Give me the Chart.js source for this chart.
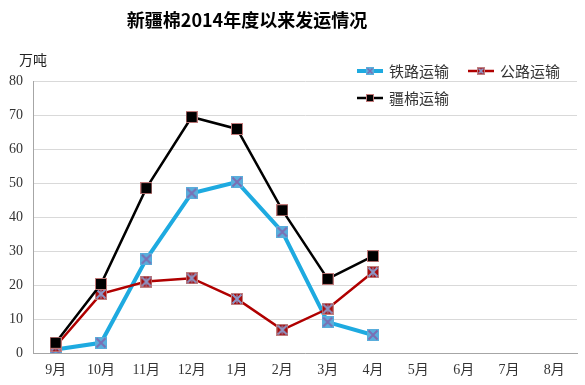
<!DOCTYPE html>
<html>
<head>
<meta charset="utf-8">
<script src="https://cdn.jsdelivr.net/npm/chart.js@4"></script>
<style>
  body { margin: 0; background: #fff; }
  #wrap { width: 585px; height: 385px; }
</style>
</head>
<body>
<div id="wrap"><canvas id="cottonChart" width="585" height="385"></canvas></div>
<script>
// data (万吨)
const months = ['9月', '10月', '11月', '12月', '1月', '2月', '3月', '4月', '5月', '6月', '7月', '8月'];
const railway = [1, 3, 27.6, 47, 50.3, 35.6, 9.1, 5.3, null, null, null, null];
const road = [2, 17.4, 21, 22, 15.9, 6.8, 13, 23.8, null, null, null, null];
const cotton = [3, 20.3, 48.5, 69.4, 65.9, 42, 21.8, 28.5, null, null, null, null];
const seriesNames = ['铁路运输', '公路运输', '疆棉运输'];
const yTicks = [0, 10, 20, 30, 40, 50, 60, 70, 80];

const cjk = '"Liberation Serif", "Noto Sans CJK SC", serif';

// marker pictures: square with a cross / star / plain
function makeMarker(size, fill, border, mark, markColor) {
    const c = document.createElement('canvas');
    c.width = size; c.height = size;
    const g = c.getContext('2d');
    g.fillStyle = fill;
    g.fillRect(0, 0, size, size);
    g.strokeStyle = border;
    g.lineWidth = 1;
    g.strokeRect(0.5, 0.5, size - 1, size - 1);
    g.strokeStyle = markColor;
    g.lineWidth = size > 8 ? 2 : 1.5;
    const p = 1.5, q = size - 1.5;
    if (mark === 'x' || mark === 'star') {
        g.beginPath();
        g.moveTo(p, p); g.lineTo(q, q);
        g.moveTo(q, p); g.lineTo(p, q);
        g.stroke();
    }
    if (mark === 'star') {
        g.lineWidth = 1.2;
        g.beginPath();
        g.moveTo(size / 2, p); g.lineTo(size / 2, q);
        g.stroke();
    }
    return c;
}

const railMark = makeMarker(12, '#5aaedc', '#5aaedc', 'x', '#7b6fb3');
const roadMark = makeMarker(12, '#a80d0d', '#c08080', 'star', '#8c98c8');
const cottonMark = makeMarker(12, '#000000', '#c07a7a', 'none', '#000');
const railMarkS = makeMarker(8, '#5aaedc', '#5aaedc', 'x', '#7b6fb3');
const roadMarkS = makeMarker(8, '#a80d0d', '#c08080', 'star', '#8c98c8');
const cottonMarkS = makeMarker(8, '#000000', '#c07a7a', 'none', '#000');

const extras = {
    id: 'extras',
    afterDraw(chart) {
        const ctx = chart.ctx;
        ctx.save();
        // title
        ctx.fillStyle = '#000';
        ctx.font = 'bold 18px "Noto Sans CJK SC", sans-serif';
        ctx.textAlign = 'center';
        ctx.textBaseline = 'middle';
        ctx.fillText('新疆棉2014年度以来发运情况', 247, 20);
        // unit
        ctx.font = '14px "Noto Sans CJK SC", sans-serif';
        ctx.fillStyle = '#222';
        ctx.fillText('万吨', 33, 60);
        // legend
        const items = [
            { x: 357, y: 71, color: '#1eaae0', w: 4, img: railMarkS, text: seriesNames[0] },
            { x: 468, y: 71, color: '#b00000', w: 2.5, img: roadMarkS, text: seriesNames[1] },
            { x: 357, y: 98, color: '#000000', w: 2.5, img: cottonMarkS, text: seriesNames[2] }
        ];
        ctx.textAlign = 'left';
        ctx.font = '15px "Noto Sans CJK SC", sans-serif';
        items.forEach(it => {
            ctx.strokeStyle = it.color;
            ctx.lineWidth = it.w;
            ctx.beginPath();
            ctx.moveTo(it.x, it.y);
            ctx.lineTo(it.x + 26, it.y);
            ctx.stroke();
            ctx.drawImage(it.img, it.x + 9, it.y - 4);
            ctx.fillStyle = '#333';
            ctx.fillText(it.text, it.x + 32, it.y);
        });
        ctx.restore();
    }
};

const ctx = document.getElementById('cottonChart').getContext('2d');
const myChart = new Chart(ctx, {
    type: 'line',
    data: {
        labels: months,
        datasets: [{
            label: seriesNames[0],
            data: railway,
            borderColor: '#1eaae0',
            borderWidth: 4,
            pointStyle: railMark,
            order: 3
        }, {
            label: seriesNames[1],
            data: road,
            borderColor: '#b00000',
            borderWidth: 2.5,
            pointStyle: roadMark,
            order: 2
        }, {
            label: seriesNames[2],
            data: cotton,
            borderColor: '#000000',
            borderWidth: 2.5,
            pointStyle: cottonMark,
            order: 1
        }]
    },
    options: {
        responsive: false,
        animation: false,
        tension: 0,
        layout: { padding: { top: 81, right: 7, left: 0, bottom: 0 } },
        plugins: {
            legend: { display: false },
            title: { display: false },
            tooltip: { enabled: false }
        },
        scales: {
            x: {
                offset: true,
                grid: { display: false, drawTicks: false },
                border: { color: '#a6a6a6', width: 1 },
                ticks: { color: '#333', font: { family: cjk, size: 14 }, padding: 9, maxRotation: 0, autoSkip: false },
                afterFit(scale) { scale.height = 32; }
            },
            y: {
                min: 0,
                max: 80,
                afterBuildTicks(scale) { scale.ticks = yTicks.map(v => ({ value: v })); },
                grid: { color: '#d9d9d9', lineWidth: 1, drawTicks: false },
                border: { color: '#a6a6a6', width: 1 },
                ticks: { color: '#333', font: { family: cjk, size: 14 }, padding: 10 },
                afterFit(scale) { scale.width = 33; }
            }
        }
    },
    plugins: [extras]
});
</script>
</body>
</html>
